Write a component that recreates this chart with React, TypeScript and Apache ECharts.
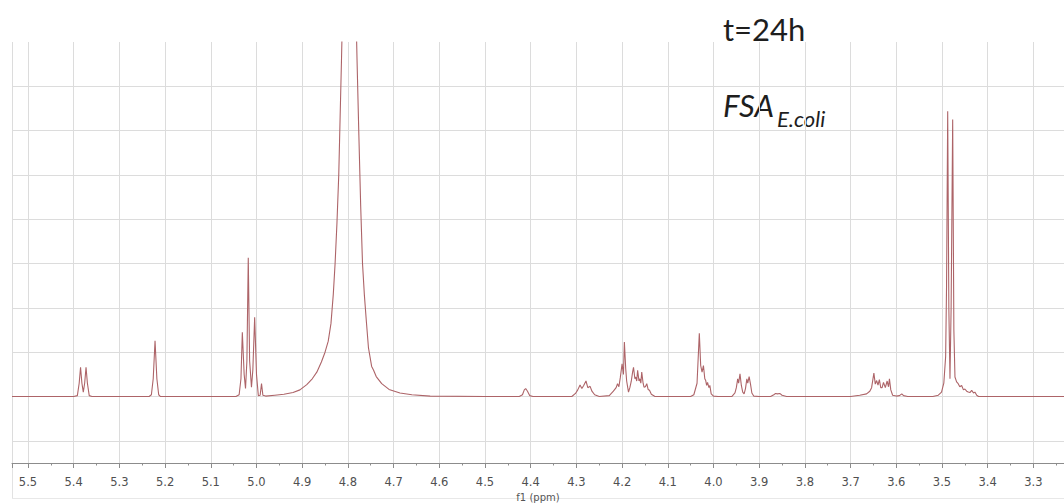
import React, { useEffect, useRef } from "react";
import * as echarts from "echarts";

// ppm, intensity (baseline = 0, one unit = one horizontal grid step)
const regionLeft: [number, number][] = [
  [5.535, 0], [5.4, 0], [5.392, 0.02], [5.388, 0.3], [5.385, 0.66], [5.382, 0.3], [5.379, 0.1],
  [5.376, 0.3], [5.373, 0.66], [5.37, 0.3], [5.366, 0.02], [5.36, 0],
  [5.235, 0], [5.23, 0.04], [5.226, 0.4], [5.222, 1.26], [5.218, 0.4], [5.214, 0.04], [5.21, 0],
];
const region500: [number, number][] = [
  [5.045, 0], [5.038, 0.04], [5.034, 0.4], [5.031, 1.45], [5.027, 0.5], [5.024, 0.18], [5.021, 0.8],
  [5.018, 3.13], [5.015, 0.8], [5.011, 0.21], [5.008, 0.6], [5.004, 1.79], [5.0, 0.5], [4.996, 0.02],
  [4.992, 0.03], [4.989, 0.29], [4.986, 0.03], [4.98, 0.01], [4.96, 0.03],
];
const waterPeak: [number, number][] = [
  [4.94, 0.05], [4.92, 0.09], [4.905, 0.15], [4.89, 0.27], [4.878, 0.4], [4.868, 0.55], [4.858, 0.78],
  [4.85, 1.0], [4.843, 1.25], [4.837, 1.65], [4.832, 2.3], [4.828, 3.0], [4.824, 3.9], [4.82, 5.0],
  [4.817, 6.3], [4.814, 7.6], [4.81, 9.5], [4.804, 12.5], [4.797, 15], [4.79, 12.5], [4.784, 9.5],
  [4.78, 7.6], [4.776, 5.9], [4.772, 4.3], [4.768, 3.0], [4.764, 2.3], [4.76, 1.75], [4.755, 1.1],
  [4.748, 0.68], [4.744, 0.6], [4.738, 0.45], [4.726, 0.29], [4.71, 0.16], [4.686, 0.08], [4.66, 0.04],
  [4.62, 0.01], [4.5, 0],
];
const region420: [number, number][] = [
  [4.425, 0], [4.418, 0.04], [4.414, 0.15], [4.411, 0.18], [4.407, 0.12], [4.402, 0.02], [4.395, 0],
  [4.31, 0], [4.302, 0.07], [4.297, 0.15], [4.292, 0.26], [4.288, 0.18], [4.284, 0.25], [4.279, 0.35],
  [4.275, 0.2], [4.27, 0.23], [4.266, 0.12], [4.26, 0.04], [4.25, 0],
  [4.228, 0.02], [4.219, 0.12], [4.213, 0.2], [4.21, 0.29], [4.207, 0.22], [4.204, 0.42], [4.2, 0.74],
  [4.197, 0.5], [4.195, 1.23], [4.192, 0.62], [4.19, 0.35], [4.186, 0.1], [4.183, 0.2], [4.18, 0.34],
  [4.177, 0.55], [4.175, 0.66], [4.172, 0.4], [4.17, 0.44], [4.168, 0.35], [4.166, 0.59], [4.163, 0.35],
  [4.161, 0.4], [4.159, 0.3], [4.157, 0.55], [4.154, 0.3], [4.152, 0.21], [4.149, 0.22], [4.146, 0.29],
  [4.143, 0.16], [4.14, 0.14], [4.136, 0.05], [4.128, 0],
];
const region400: [number, number][] = [
  [4.05, 0], [4.043, 0.04], [4.036, 0.3], [4.031, 1.43], [4.028, 0.7], [4.025, 0.55], [4.022, 0.7],
  [4.019, 0.4], [4.017, 0.36], [4.015, 0.25], [4.013, 0.32], [4.01, 0.2], [4.008, 0.25], [4.005, 0.06],
  [4.0, 0.01], [3.99, 0],
  [3.96, 0], [3.953, 0.08], [3.95, 0.2], [3.947, 0.4], [3.945, 0.3], [3.942, 0.51], [3.939, 0.25],
  [3.936, 0.1], [3.933, 0.06], [3.93, 0.18], [3.927, 0.4], [3.925, 0.3], [3.922, 0.45], [3.919, 0.28],
  [3.916, 0.08], [3.912, 0.01], [3.9, 0],
  [3.875, 0], [3.868, 0.04], [3.864, 0.07], [3.86, 0.06], [3.855, 0.07], [3.85, 0.03], [3.84, 0],
];
const region360: [number, number][] = [
  [3.7, 0], [3.68, 0.03], [3.665, 0.06], [3.658, 0.12], [3.654, 0.2], [3.651, 0.4], [3.649, 0.53],
  [3.646, 0.28], [3.643, 0.36], [3.64, 0.26], [3.637, 0.38], [3.634, 0.2], [3.631, 0.2], [3.628, 0.32],
  [3.624, 0.2], [3.62, 0.35], [3.617, 0.22], [3.615, 0.4], [3.612, 0.15], [3.608, 0.03], [3.6, 0.01],
  [3.593, 0.02], [3.588, 0.06], [3.584, 0.02], [3.575, 0],
];
const region348: [number, number][] = [
  [3.52, 0], [3.508, 0.03], [3.501, 0.1], [3.496, 0.3], [3.492, 0.9], [3.49, 2.5], [3.4875, 6.44],
  [3.485, 2.0], [3.4825, 0.4], [3.48, 2.0], [3.4766, 6.25], [3.474, 1.5], [3.4716, 0.44], [3.468, 0.33],
  [3.4645, 0.29], [3.461, 0.22], [3.457, 0.25], [3.453, 0.15], [3.45, 0.17], [3.446, 0.12],
  [3.4425, 0.1], [3.439, 0.09], [3.435, 0.14], [3.431, 0.08], [3.428, 0.1], [3.424, 0.03], [3.42, 0],
  [3.233, 0],
];

const X_MIN = 3.233;
const X_MAX = 5.535;
const Y_MIN = -1.5;
const Y_MAX = 8;

const titleText = "t=24h";
const labelMain = "FSA";
const labelSub = "E.coli";
const axisName = "f1 (ppm)";

export default function App() {
  const ref = useRef<HTMLDivElement>(null);
  useEffect(() => {
    if (!ref.current) return;
    const chart = echarts.init(ref.current, undefined, { renderer: "svg" });
    const spectrum = [
      ...regionLeft, ...region500, ...waterPeak, ...region420, ...region400, ...region360, ...region348,
    ];
    const gridColor = "#dcdcdc";
    chart.setOption({
      animation: false,
      backgroundColor: "#ffffff",
      grid: {
        left: 12,
        right: 0,
        top: 42,
        bottom: 40,
        containLabel: false,
        outerBoundsMode: "none",
      },
      xAxis: [
        {
          type: "value",
          inverse: true,
          min: X_MIN,
          max: X_MAX,
          minInterval: 0.1,
          maxInterval: 0.1,
          position: "bottom",
          name: axisName,
          nameLocation: "middle",
          nameGap: 25,
          nameTextStyle: { fontFamily: "DejaVu Sans", fontSize: 10, color: "#555" },
          axisLine: { show: true, onZero: false, lineStyle: { color: "#8c8c8c", width: 1 } },
          axisTick: { show: true, length: 5, lineStyle: { color: "#8c8c8c" } },
          minorTick: { show: true, splitNumber: 2, length: 2.5, lineStyle: { color: "#8c8c8c" } },
          axisLabel: {
            show: true,
            margin: 13,
            fontFamily: "DejaVu Sans",
            fontSize: 11.5,
            color: "#505050",
            showMinLabel: false,
            showMaxLabel: false,
            formatter: (v: number) =>
              Math.abs(v * 10 - Math.round(v * 10)) < 1e-6 ? v.toFixed(1) : "",
          },
          splitLine: { show: true, lineStyle: { color: gridColor, width: 1 } },
        },
      ],
      yAxis: [
        {
          type: "value",
          min: Y_MIN,
          max: Y_MAX,
          axisLine: { show: false, onZero: false },
          axisTick: { show: false },
          axisLabel: { show: false },
          splitLine: { show: false },
        },
        {
          type: "value",
          inverse: true,
          min: 0,
          max: 9.5,
          interval: 1,
          axisLine: { show: false, onZero: false },
          axisTick: { show: false },
          axisLabel: { show: false },
          splitLine: {
            show: true,
            showMinLine: false,
            showMaxLine: false,
            lineStyle: { color: gridColor, width: 1 },
          },
        },
      ],
      series: [
        {
          type: "line",
          xAxisIndex: 0,
          yAxisIndex: 0,
          data: spectrum,
          showSymbol: false,
          symbol: "none",
          clip: true,
          lineStyle: { color: "#ad6468", width: 1.1 },
          silent: true,
        },
      ],
      graphic: [
        {
          type: "line",
          shape: { x1: 12.5, y1: 42, x2: 12.5, y2: 498 },
          style: { stroke: "#e2e2e2", lineWidth: 1 },
          silent: true,
        },
        {
          type: "line",
          shape: { x1: 12, y1: 498.5, x2: 1064, y2: 498.5 },
          style: { stroke: "#e8e8e8", lineWidth: 1 },
          silent: true,
        },
        {
          type: "text",
          left: 723,
          top: 13,
          style: {
            text: titleText,
            fontFamily: "Lato",
            fontSize: 31,
            fill: "#1e1e1e",
          },
        },
        {
          type: "text",
          left: 723,
          top: 89,
          style: {
            text: labelMain,
            fontFamily: "Lato",
            fontStyle: "italic",
            fontSize: 31,
            fill: "#1e1e1e",
          },
        },
        {
          type: "text",
          left: 777,
          top: 107,
          style: {
            text: labelSub,
            fontFamily: "Lato",
            fontStyle: "italic",
            fontSize: 22,
            fill: "#1e1e1e",
          },
        },
      ],
    });
    return () => chart.dispose();
  }, []);
  return (
    <div
      ref={ref}
      style={{ position: "absolute", left: 0, top: 0, width: 1064, height: 503 }}
    />
  );
}
